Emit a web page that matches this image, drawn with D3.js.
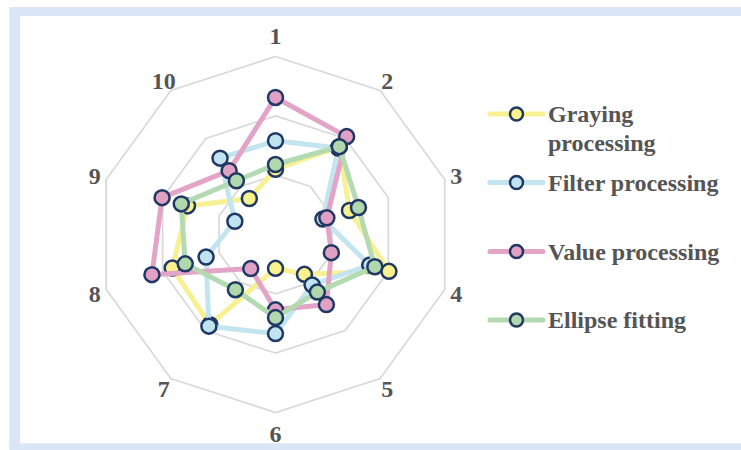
<!DOCTYPE html>
<html>
<head>
<meta charset="utf-8">
<script src="https://cdn.jsdelivr.net/npm/d3@7"></script>
<style>
  html, body { margin: 0; padding: 0; background: #ffffff; }
  svg { display: block; }
</style>
</head>
<body>
<svg id="chart" width="741" height="450"></svg>
<script>
// ---- data ----
const categories = ["1", "2", "3", "4", "5", "6", "7", "8", "9", "10"];
const seriesNames = ["Graying processing", "Filter processing", "Value processing", "Ellipse fitting"];
const graying = [1.10, 1.83, 1.31, 2.01, 0.83, 0.57, 1.88, 1.83, 1.56, 0.75];
const filterP = [1.58, 1.80, 0.84, 1.67, 1.05, 1.67, 1.91, 1.23, 0.72, 1.59];
const valueP  = [2.31, 2.04, 0.91, 0.99, 1.46, 1.27, 0.71, 2.19, 2.01, 1.33];
const ellipse = [1.18, 1.83, 1.47, 1.76, 1.20, 1.40, 1.15, 1.60, 1.67, 1.12];
const ringTicks = [1, 2, 3];
const lineColors = ["#f7f194", "#c3e5f0", "#e3a5c7", "#b4dab1"];
const markerFills = ["#f8f28e", "#bfe3ef", "#e1a1c5", "#b1d7ad"];

const allSeries = [graying, filterP, valueP, ellipse];

// ---- layout ----
const W = 741, H = 450;
const cx = 275.5, cy = 234.5, R = 178;
const svg = d3.select("#chart");

// frame
const frameColor = "#dae6f5";
svg.append("rect").attr("x", 9.5).attr("y", 7).attr("width", 10.5).attr("height", H - 7).attr("fill", frameColor);
svg.append("rect").attr("x", 9.5).attr("y", 7).attr("width", W - 9.5).attr("height", 9).attr("fill", frameColor);
svg.append("rect").attr("x", 9.5).attr("y", 443.3).attr("width", W - 9.5).attr("height", H - 443.3).attr("fill", frameColor);

const r = d3.scaleLinear().domain([0, 3]).range([0, R]);
const angle = d3.scalePoint().domain(categories).range([0, 2 * Math.PI * (categories.length - 1) / categories.length]);

const g = svg.append("g").attr("transform", `translate(${cx},${cy})`);

const radial = d3.lineRadial()
  .angle((d, i) => angle(categories[i]))
  .radius(d => r(d))
  .curve(d3.curveLinearClosed);

// grid rings
g.append("g").selectAll("path")
  .data(ringTicks)
  .join("path")
  .attr("d", t => radial(categories.map(() => t)))
  .attr("fill", "none")
  .attr("stroke", "#d9d9d9")
  .attr("stroke-width", 1.75);

// axis labels
g.append("g").selectAll("text")
  .data(categories)
  .join("text")
  .attr("x", c => { const a = angle(c); return Math.sin(a) * (Math.abs(Math.cos(a)) > 0.99 ? 199 : 190); })
  .attr("y", c => { const a = angle(c); return -Math.cos(a) * (Math.abs(Math.cos(a)) > 0.99 ? 199 : 190); })
  .attr("text-anchor", "middle")
  .attr("dy", "0.36em")
  .attr("font-family", "'Liberation Serif', 'Times New Roman', serif")
  .attr("font-weight", "bold")
  .attr("font-size", 24)
  .attr("fill", "#555555")
  .text(c => c);

// series
allSeries.forEach((vals, si) => {
  const sg = g.append("g");
  sg.append("path")
    .attr("d", radial(vals))
    .attr("fill", "none")
    .attr("stroke", lineColors[si])
    .attr("stroke-width", 5)
    .attr("stroke-linejoin", "round");
  sg.selectAll("circle")
    .data(vals)
    .join("circle")
    .attr("cx", (d, i) => Math.sin(angle(categories[i])) * r(d))
    .attr("cy", (d, i) => -Math.cos(angle(categories[i])) * r(d))
    .attr("r", 7.5)
    .attr("fill", markerFills[si])
    .attr("stroke", "#203864")
    .attr("stroke-width", 2.5);
});

// legend
const legendY = [114, 182.5, 251.5, 320];
const lg = svg.append("g");
seriesNames.forEach((name, i) => {
  const item = lg.append("g").attr("transform", `translate(0,${legendY[i]})`);
  item.append("line").attr("x1", 490).attr("x2", 543).attr("y1", 0).attr("y2", 0)
    .attr("stroke", lineColors[i]).attr("stroke-width", 5).attr("stroke-linecap", "round");
  item.append("circle").attr("cx", 516.5).attr("cy", 0).attr("r", 6.5)
    .attr("fill", markerFills[i]).attr("stroke", "#203864").attr("stroke-width", 2.5);
  const txt = item.append("text")
    .attr("x", 548)
    .attr("y", 8)
    .attr("font-family", "'Liberation Serif', 'Times New Roman', serif")
    .attr("font-weight", "bold")
    .attr("font-size", 24)
    .attr("fill", "#555555");
  const parts = name === "Graying processing" ? ["Graying", "processing"] : [name];
  parts.forEach((p, k) => {
    txt.append("tspan").attr("x", 548).attr("dy", k === 0 ? 0 : 29).text(p);
  });
});
</script>
</body>
</html>
